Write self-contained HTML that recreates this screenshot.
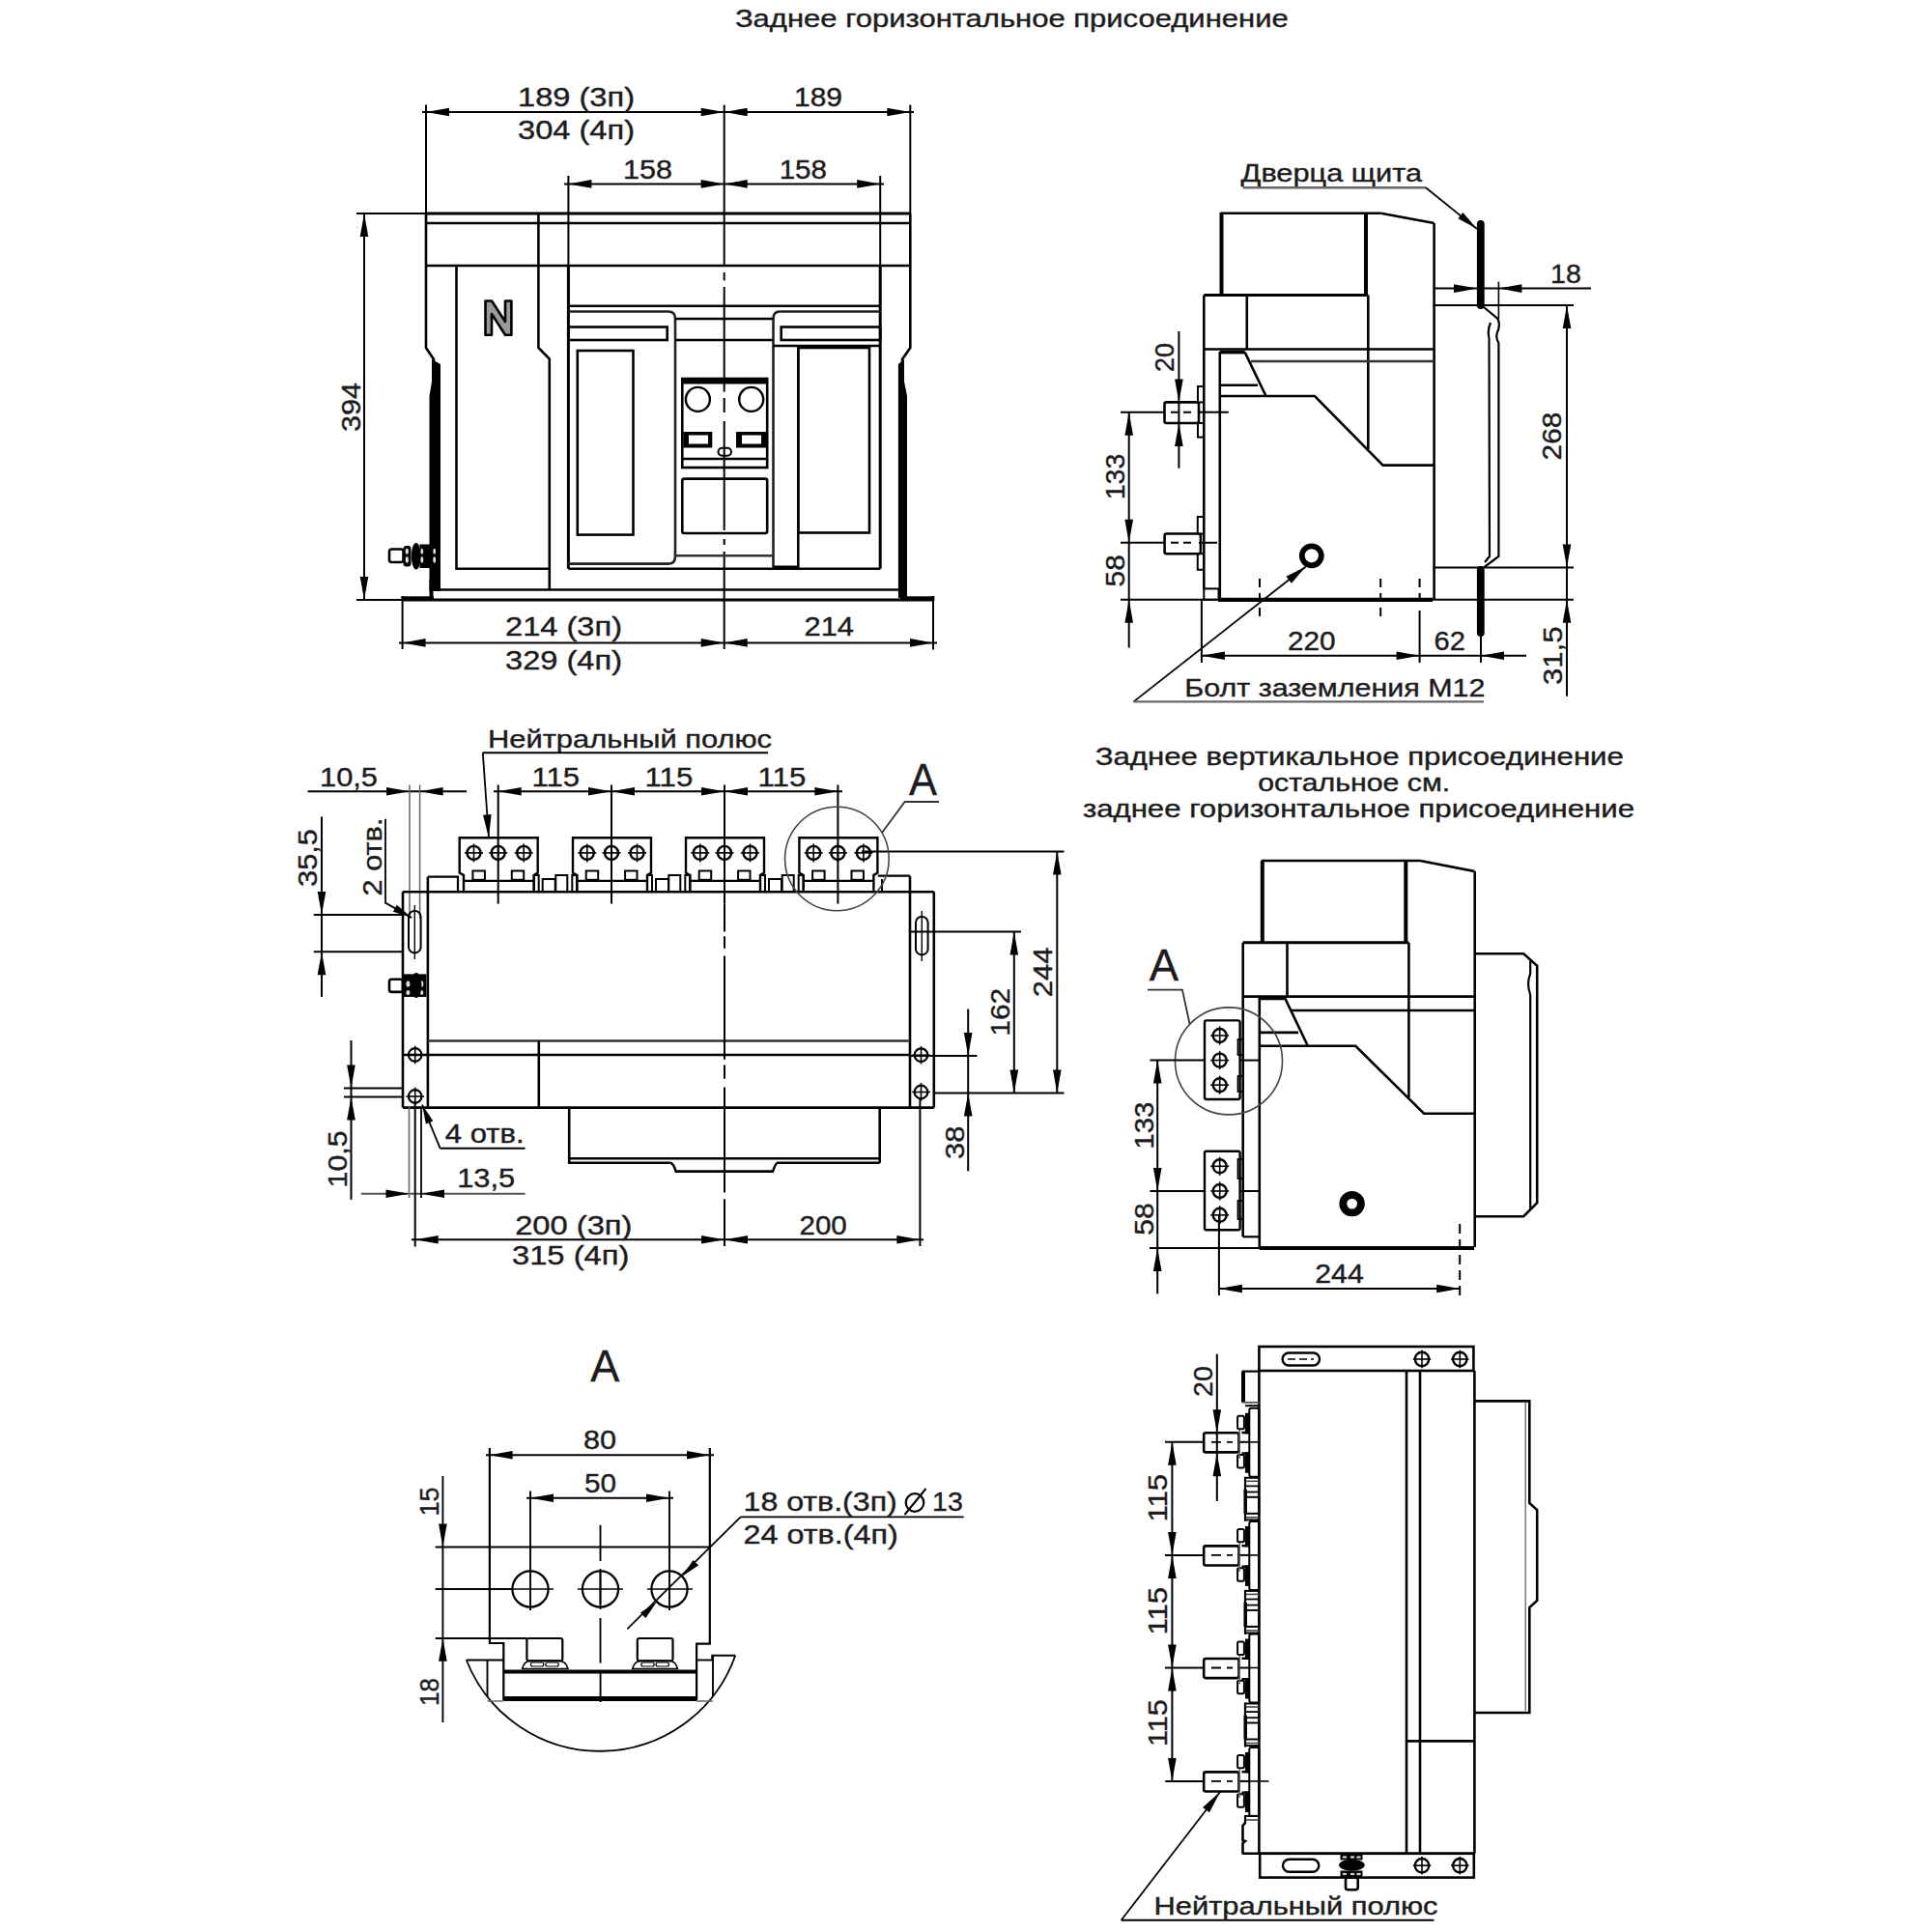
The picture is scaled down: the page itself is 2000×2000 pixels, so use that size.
<!DOCTYPE html>
<html><head><meta charset="utf-8"><style>
html,body{margin:0;padding:0;background:#fff;}
svg{display:block;}
text{font-family:"Liberation Sans",sans-serif;stroke:#1c1c1c;stroke-width:0.4px;}
</style></head><body>
<svg width="2000" height="2000" viewBox="0 0 2000 2000">
<rect width="2000" height="2000" fill="#fff"/>
<text x="760.9" y="28.2" font-size="26" fill="#1c1c1c" textLength="572.8" lengthAdjust="spacingAndGlyphs">Заднее горизонтальное присоединение</text>
<line x1="437.0" y1="116.0" x2="946.0" y2="116.0" stroke="#000" stroke-width="2.0" />
<line x1="441.0" y1="108.6" x2="441.0" y2="221.0" stroke="#000" stroke-width="2.0" />
<line x1="942.3" y1="108.6" x2="942.3" y2="221.0" stroke="#000" stroke-width="2.0" />
<polygon points="441.0,116.0 465.0,111.7 465.0,120.3" fill="#000"/>
<polygon points="749.7,116.0 725.7,120.3 725.7,111.7" fill="#000"/>
<polygon points="749.7,116.0 773.7,111.7 773.7,120.3" fill="#000"/>
<polygon points="942.3,116.0 918.3,120.3 918.3,111.7" fill="#000"/>
<text x="536.0" y="110.0" font-size="27" fill="#1c1c1c" textLength="121.0" lengthAdjust="spacingAndGlyphs">189 (3п)</text>
<text x="536.0" y="144.0" font-size="27" fill="#1c1c1c" textLength="121.0" lengthAdjust="spacingAndGlyphs">304 (4п)</text>
<text x="822.0" y="110.0" font-size="27" fill="#1c1c1c" textLength="50.0" lengthAdjust="spacingAndGlyphs">189</text>
<line x1="584.0" y1="190.4" x2="915.0" y2="190.4" stroke="#000" stroke-width="2.0" />
<line x1="588.4" y1="182.0" x2="588.4" y2="316.7" stroke="#000" stroke-width="2.0" />
<line x1="911.2" y1="182.0" x2="911.2" y2="316.7" stroke="#000" stroke-width="2.0" />
<polygon points="588.4,190.4 612.4,186.1 612.4,194.7" fill="#000"/>
<polygon points="749.7,190.4 725.7,194.7 725.7,186.1" fill="#000"/>
<polygon points="749.7,190.4 773.7,186.1 773.7,194.7" fill="#000"/>
<polygon points="911.2,190.4 887.2,194.7 887.2,186.1" fill="#000"/>
<text x="645.0" y="185.0" font-size="27" fill="#1c1c1c" textLength="51.0" lengthAdjust="spacingAndGlyphs">158</text>
<text x="806.7" y="185.0" font-size="27" fill="#1c1c1c" textLength="49.3" lengthAdjust="spacingAndGlyphs">158</text>
<line x1="749.7" y1="108.6" x2="749.7" y2="275.0" stroke="#000" stroke-width="2.0" />
<line x1="749.7" y1="282.0" x2="749.7" y2="290.4" stroke="#000" stroke-width="2.0" />
<line x1="749.7" y1="297.0" x2="749.7" y2="405.6" stroke="#000" stroke-width="2.0" />
<line x1="749.7" y1="412.0" x2="749.7" y2="427.0" stroke="#000" stroke-width="2.0" />
<line x1="749.7" y1="436.0" x2="749.7" y2="549.0" stroke="#000" stroke-width="2.0" />
<line x1="749.7" y1="558.0" x2="749.7" y2="564.0" stroke="#000" stroke-width="2.0" />
<line x1="749.7" y1="571.0" x2="749.7" y2="672.0" stroke="#000" stroke-width="2.0" />
<line x1="377.0" y1="221.0" x2="377.0" y2="621.0" stroke="#000" stroke-width="2.0" />
<polygon points="377.0,221.0 381.3,245.0 372.7,245.0" fill="#000"/>
<polygon points="377.0,621.0 372.7,597.0 381.3,597.0" fill="#000"/>
<line x1="369.0" y1="221.0" x2="441.0" y2="221.0" stroke="#000" stroke-width="2.0" />
<line x1="369.0" y1="621.0" x2="416.6" y2="621.0" stroke="#000" stroke-width="2.0" />
<text transform="translate(372.7,447.0) rotate(-90)" x="0" y="0" font-size="27" fill="#1c1c1c" textLength="51.0" lengthAdjust="spacingAndGlyphs">394</text>
<line x1="413.0" y1="665.4" x2="970.0" y2="665.4" stroke="#000" stroke-width="2.0" />
<line x1="416.6" y1="617.0" x2="416.6" y2="672.0" stroke="#000" stroke-width="2.0" />
<line x1="966.0" y1="617.0" x2="966.0" y2="672.6" stroke="#000" stroke-width="2.0" />
<polygon points="416.6,665.4 440.6,661.1 440.6,669.7" fill="#000"/>
<polygon points="749.7,665.4 725.7,669.7 725.7,661.1" fill="#000"/>
<polygon points="749.7,665.4 773.7,661.1 773.7,669.7" fill="#000"/>
<polygon points="966.0,665.4 942.0,669.7 942.0,661.1" fill="#000"/>
<text x="523.0" y="658.0" font-size="27" fill="#1c1c1c" textLength="121.0" lengthAdjust="spacingAndGlyphs">214 (3п)</text>
<text x="523.0" y="693.0" font-size="27" fill="#1c1c1c" textLength="121.0" lengthAdjust="spacingAndGlyphs">329 (4п)</text>
<text x="832.5" y="658.0" font-size="27" fill="#1c1c1c" textLength="51.5" lengthAdjust="spacingAndGlyphs">214</text>
<line x1="441.0" y1="221.0" x2="942.3" y2="221.0" stroke="#000" stroke-width="3.2" />
<line x1="441.0" y1="231.0" x2="942.3" y2="231.0" stroke="#000" stroke-width="2.6" />
<line x1="441.0" y1="275.0" x2="942.3" y2="275.0" stroke="#000" stroke-width="2.6" />
<polyline points="441.0,221.0 441.0,360.0 449.0,372.0 449.0,610.5" fill="none" stroke="#000" stroke-width="2.6" stroke-linejoin="miter" />
<polygon points="447,372 456,377 456,612 444.5,612 444.5,410 447,395" fill="#000"/>
<polyline points="942.3,221.0 942.3,360.0 934.0,372.0 934.0,610.5" fill="none" stroke="#000" stroke-width="2.6" stroke-linejoin="miter" />
<polygon points="936,372 929.9,377 929.9,619 939,619 939,410 936,395" fill="#000"/>
<line x1="416.6" y1="621.0" x2="966.0" y2="621.0" stroke="#000" stroke-width="3.0" />
<rect x="415.5" y="617.3" width="33.5" height="4.5" fill="#000"/>
<rect x="932.0" y="617.3" width="35.4" height="4.5" fill="#000"/>
<rect x="444.5" y="600.0" width="4.0" height="21.5" fill="#000"/>
<rect x="935.0" y="600.0" width="4.0" height="21.5" fill="#000"/>
<line x1="456.0" y1="610.5" x2="930.0" y2="610.5" stroke="#000" stroke-width="2.6" />
<polyline points="472.5,275.0 472.5,588.8 568.8,588.8" fill="none" stroke="#000" stroke-width="2.6" stroke-linejoin="miter" />
<polyline points="557.4,221.0 557.4,360.0 568.8,371.6 568.8,610.5" fill="none" stroke="#000" stroke-width="2.6" stroke-linejoin="miter" />
<polygon points="502.5,311.5 509.0,311.5 523.0,333.0 523.0,311.5 529.4,311.5 529.4,346.7 523.0,346.7 509.0,325.0 509.0,346.7 502.5,346.7" fill="#999" stroke="#000" stroke-width="2.6"  stroke-linejoin="round"/>
<line x1="588.4" y1="275.0" x2="588.4" y2="588.8" stroke="#000" stroke-width="3.0" />
<line x1="911.2" y1="275.0" x2="911.2" y2="588.8" stroke="#000" stroke-width="3.0" />
<line x1="588.4" y1="316.7" x2="911.2" y2="316.7" stroke="#000" stroke-width="2.6" />
<line x1="588.4" y1="588.8" x2="911.2" y2="588.8" stroke="#000" stroke-width="2.6" />
<path d="M588.4,322.5 L692,322.5 Q699,322.5 699,330 L699,576 Q699,583.6 692,583.6 L588.4,583.6" fill="none" stroke="#222" stroke-width="2.6" />
<path d="M911.2,322.5 L807,322.5 Q800.5,322.5 800.5,330 L800.5,588.8" fill="none" stroke="#222" stroke-width="2.6" />
<line x1="699.0" y1="330.0" x2="800.5" y2="330.0" stroke="#000" stroke-width="2.6" />
<line x1="699.0" y1="352.0" x2="800.5" y2="352.0" stroke="#000" stroke-width="2.6" />
<line x1="699.0" y1="575.3" x2="800.5" y2="575.3" stroke="#333" stroke-width="2.6" />
<rect x="588.4" y="338.5" width="102.3" height="13.5" fill="none" stroke="#000" stroke-width="2.6" rx="0"/>
<rect x="808.7" y="338.5" width="102.5" height="13.5" fill="none" stroke="#000" stroke-width="2.6" rx="0"/>
<line x1="800.5" y1="358.0" x2="911.2" y2="358.0" stroke="#000" stroke-width="2.6" />
<rect x="597.8" y="363.0" width="57.7" height="190.6" fill="none" stroke="#000" stroke-width="2.6" rx="0"/>
<line x1="826.3" y1="358.0" x2="826.3" y2="588.0" stroke="#000" stroke-width="2.6" />
<rect x="800.5" y="585.5" width="25.8" height="4.5" fill="#000"/>
<rect x="826.3" y="360.0" width="73.7" height="191.5" fill="none" stroke="#000" stroke-width="2.6" rx="0"/>
<rect x="706.3" y="392.0" width="87.9" height="92.0" fill="none" stroke="#000" stroke-width="2.6" rx="0"/>
<rect x="706.3" y="391.0" width="87.9" height="6.5" fill="#000"/>
<line x1="706.3" y1="475.0" x2="794.2" y2="475.0" stroke="#000" stroke-width="2.6" />
<circle cx="722.4" cy="413.4" r="12.5" fill="none" stroke="#000" stroke-width="2.4" />
<circle cx="777.7" cy="413.4" r="12.5" fill="none" stroke="#000" stroke-width="2.4" />
<rect x="707.3" y="447.0" width="30.0" height="16.5" fill="#000"/>
<rect x="713.0" y="450.5" width="20.0" height="9.0" fill="#fff"/>
<rect x="762.0" y="447.0" width="31.0" height="16.5" fill="#000"/>
<rect x="768.0" y="450.5" width="20.0" height="9.0" fill="#fff"/>
<rect x="743.5" y="463.7" width="13.5" height="8.0" fill="none" stroke="#000" stroke-width="2.0" rx="4"/>
<rect x="706.3" y="495.6" width="87.9" height="56.4" fill="none" stroke="#000" stroke-width="2.6" rx="2"/>
<rect x="403.0" y="568.5" width="14.5" height="13.5" fill="none" stroke="#000" stroke-width="2.6" rx="2.5"/>
<rect x="417.5" y="565" width="8" height="21.5" rx="3" fill="#000"/>
<ellipse cx="421.3" cy="570.8" rx="1.6" ry="3" fill="#ddd"/>
<ellipse cx="421.3" cy="579.5" rx="1.6" ry="3.2" fill="#ddd"/>
<ellipse cx="430.8" cy="575.8" rx="5" ry="13.8" fill="#000"/>
<rect x="434.5" y="563.5" width="10.5" height="24.5" fill="#000"/>
<ellipse cx="436.8" cy="570.8" rx="1.4" ry="3" fill="#ddd"/>
<ellipse cx="436.8" cy="579.5" rx="1.4" ry="3.2" fill="#ddd"/>
<ellipse cx="449.7" cy="570.8" rx="1.4" ry="3" fill="#ddd"/>
<ellipse cx="449.7" cy="579.5" rx="1.4" ry="3.2" fill="#ddd"/>
<text x="1284.6" y="187.6" font-size="26" fill="#1c1c1c" textLength="187.4" lengthAdjust="spacingAndGlyphs">Дверца щита</text>
<line x1="1286.6" y1="194.2" x2="1476.0" y2="194.2" stroke="#666" stroke-width="2.4" />
<line x1="1476.0" y1="194.2" x2="1529.0" y2="237.0" stroke="#000" stroke-width="1.8" />
<polygon points="1529.0,237.0 1509.4,226.3 1514.4,220.1" fill="#000"/>
<line x1="1532.8" y1="232" x2="1532.8" y2="316" stroke="#000" stroke-width="7.8" stroke-linecap="round"/>
<line x1="1532.8" y1="590" x2="1532.8" y2="655" stroke="#000" stroke-width="7.8" stroke-linecap="round"/>
<line x1="1533.0" y1="655.0" x2="1533.0" y2="686.0" stroke="#000" stroke-width="2.0" />
<line x1="1263.5" y1="220.7" x2="1429.5" y2="220.7" stroke="#000" stroke-width="2.6" />
<line x1="1429.5" y1="220.7" x2="1484.6" y2="231.0" stroke="#000" stroke-width="2.6" />
<line x1="1264.5" y1="220.0" x2="1264.5" y2="305.6" stroke="#000" stroke-width="4.0" />
<line x1="1414.0" y1="220.0" x2="1414.0" y2="305.6" stroke="#000" stroke-width="4.0" />
<line x1="1246.3" y1="305.6" x2="1416.3" y2="305.6" stroke="#000" stroke-width="3.0" />
<line x1="1246.3" y1="305.6" x2="1246.3" y2="609.4" stroke="#000" stroke-width="2.6" />
<line x1="1290.8" y1="305.6" x2="1290.8" y2="361.5" stroke="#000" stroke-width="2.6" />
<line x1="1416.3" y1="305.6" x2="1416.3" y2="465.0" stroke="#000" stroke-width="2.6" />
<line x1="1484.6" y1="231.0" x2="1484.6" y2="621.0" stroke="#000" stroke-width="2.6" />
<line x1="1246.3" y1="361.5" x2="1484.6" y2="361.5" stroke="#000" stroke-width="2.6" />
<line x1="1295.0" y1="374.0" x2="1484.6" y2="374.0" stroke="#333" stroke-width="2.6" />
<line x1="1262.8" y1="364.6" x2="1288.7" y2="364.6" stroke="#000" stroke-width="3.6" />
<line x1="1288.7" y1="364.6" x2="1310.5" y2="410.0" stroke="#000" stroke-width="2.6" />
<line x1="1263.0" y1="398.8" x2="1302.0" y2="398.8" stroke="#000" stroke-width="2.6" />
<polyline points="1263.0,410.0 1361.0,410.0 1431.6,481.6 1484.6,481.6" fill="none" stroke="#000" stroke-width="2.6" stroke-linejoin="miter" />
<line x1="1262.8" y1="364.0" x2="1262.8" y2="620.8" stroke="#000" stroke-width="2.6" />
<rect x="1246.3" y="609.4" width="15.2" height="11.4" fill="none" stroke="#000" stroke-width="2.0" rx="0"/>
<rect x="1205.5" y="416.4" width="35.5" height="21.6" fill="none" stroke="#000" stroke-width="2.6" rx="2"/>
<rect x="1240.0" y="400.0" width="6.0" height="16.4" fill="none" stroke="#000" stroke-width="2.0" rx="0"/>
<rect x="1240.0" y="438.0" width="6.0" height="14.6" fill="none" stroke="#000" stroke-width="2.0" rx="0"/>
<rect x="1205.6" y="552.5" width="37.3" height="20.7" fill="none" stroke="#000" stroke-width="2.6" rx="2"/>
<rect x="1239.8" y="535.0" width="6.2" height="17.5" fill="none" stroke="#000" stroke-width="2.0" rx="0"/>
<rect x="1239.8" y="573.2" width="6.2" height="16.6" fill="none" stroke="#000" stroke-width="2.0" rx="0"/>
<line x1="1160.0" y1="426.7" x2="1206.0" y2="426.7" stroke="#000" stroke-width="2.0" />
<line x1="1241.0" y1="426.7" x2="1271.8" y2="426.7" stroke="#000" stroke-width="2.0" />
<line x1="1212.0" y1="426.7" x2="1236.0" y2="426.7" stroke="#000" stroke-width="2.0" stroke-dasharray="8 5"/>
<line x1="1160.0" y1="561.8" x2="1206.0" y2="561.8" stroke="#000" stroke-width="2.0" />
<line x1="1241.0" y1="561.8" x2="1260.0" y2="561.8" stroke="#000" stroke-width="2.0" />
<line x1="1212.0" y1="561.8" x2="1236.0" y2="561.8" stroke="#000" stroke-width="2.0" stroke-dasharray="8 5"/>
<line x1="1220.4" y1="343.0" x2="1220.4" y2="484.7" stroke="#000" stroke-width="2.0" />
<polygon points="1220.4,416.4 1216.1,392.4 1224.7,392.4" fill="#000"/>
<polygon points="1220.4,438.0 1224.7,462.0 1216.1,462.0" fill="#000"/>
<text transform="translate(1215.0,385.0) rotate(-90)" x="0" y="0" font-size="27" fill="#1c1c1c" textLength="30.0" lengthAdjust="spacingAndGlyphs">20</text>
<line x1="1168.7" y1="426.7" x2="1168.7" y2="670.5" stroke="#000" stroke-width="2.0" />
<polygon points="1168.7,426.7 1173.0,450.7 1164.4,450.7" fill="#000"/>
<polygon points="1168.7,561.8 1164.4,537.8 1173.0,537.8" fill="#000"/>
<polygon points="1168.7,620.8 1173.0,644.8 1164.4,644.8" fill="#000"/>
<text transform="translate(1164.2,517.3) rotate(-90)" x="0" y="0" font-size="27" fill="#1c1c1c" textLength="47.6" lengthAdjust="spacingAndGlyphs">133</text>
<text transform="translate(1164.2,607.4) rotate(-90)" x="0" y="0" font-size="27" fill="#1c1c1c" textLength="33.2" lengthAdjust="spacingAndGlyphs">58</text>
<line x1="1160.0" y1="620.8" x2="1629.0" y2="620.8" stroke="#000" stroke-width="2.0" />
<line x1="1261.0" y1="620.8" x2="1483.0" y2="620.8" stroke="#000" stroke-width="4.2" />
<circle cx="1357.8" cy="575.3" r="10.0" fill="none" stroke="#000" stroke-width="5.8" />
<line x1="1351.5" y1="586.7" x2="1173.5" y2="726.4" stroke="#000" stroke-width="1.8" />
<polygon points="1351.5,586.7 1337.0,603.8 1331.4,596.7" fill="#000"/>
<line x1="1173.5" y1="726.4" x2="1536.0" y2="726.4" stroke="#666" stroke-width="2.4" />
<text x="1226.3" y="721.2" font-size="26.5" fill="#1c1c1c" textLength="311.1" lengthAdjust="spacingAndGlyphs">Болт заземления М12</text>
<line x1="1304.0" y1="599.0" x2="1304.0" y2="643.0" stroke="#000" stroke-width="2.0" stroke-dasharray="9 6"/>
<line x1="1429.2" y1="599.0" x2="1429.2" y2="643.0" stroke="#000" stroke-width="2.0" stroke-dasharray="9 6"/>
<line x1="1469.6" y1="599.0" x2="1469.6" y2="625.0" stroke="#000" stroke-width="2.0" stroke-dasharray="9 6"/>
<line x1="1469.6" y1="632.0" x2="1469.6" y2="686.0" stroke="#000" stroke-width="2.0" />
<line x1="1243.9" y1="620.8" x2="1243.9" y2="686.0" stroke="#000" stroke-width="2.0" />
<line x1="1243.9" y1="678.8" x2="1580.0" y2="678.8" stroke="#000" stroke-width="2.0" />
<polygon points="1243.9,678.8 1267.9,674.5 1267.9,683.1" fill="#000"/>
<polygon points="1469.6,678.8 1445.6,683.1 1445.6,674.5" fill="#000"/>
<polygon points="1533.0,678.8 1557.0,674.5 1557.0,683.1" fill="#000"/>
<text x="1333.0" y="672.6" font-size="27" fill="#1c1c1c" textLength="49.6" lengthAdjust="spacingAndGlyphs">220</text>
<text x="1484.6" y="672.5" font-size="27" fill="#1c1c1c" textLength="32.4" lengthAdjust="spacingAndGlyphs">62</text>
<line x1="1484.6" y1="298.6" x2="1647.0" y2="298.6" stroke="#000" stroke-width="2.0" />
<polygon points="1529.0,298.6 1505.0,302.9 1505.0,294.3" fill="#000"/>
<polygon points="1551.4,298.6 1575.4,294.3 1575.4,302.9" fill="#000"/>
<text x="1605.0" y="293.0" font-size="27" fill="#1c1c1c" textLength="31.8" lengthAdjust="spacingAndGlyphs">18</text>
<line x1="1484.6" y1="316.1" x2="1629.0" y2="316.1" stroke="#000" stroke-width="2.0" />
<line x1="1551.4" y1="291.6" x2="1551.4" y2="330.0" stroke="#000" stroke-width="1.6" />
<path d="M1536,318 L1550.5,330 Q1553.5,337 1550,344 Q1548,350 1551.4,355 L1551.4,576 L1536.6,587" fill="none" stroke="#000" stroke-width="2.2" />
<path d="M1543,334 Q1539.5,342 1541.5,350 L1542,576 L1537,582" fill="none" stroke="#000" stroke-width="2.2" />
<line x1="1484.6" y1="587.6" x2="1629.0" y2="587.6" stroke="#000" stroke-width="2.0" />
<line x1="1622.0" y1="316.1" x2="1622.0" y2="720.7" stroke="#000" stroke-width="2.0" />
<polygon points="1622.0,316.1 1626.3,340.1 1617.7,340.1" fill="#000"/>
<polygon points="1622.0,587.6 1617.7,563.6 1626.3,563.6" fill="#000"/>
<polygon points="1622.0,620.8 1626.3,644.8 1617.7,644.8" fill="#000"/>
<text transform="translate(1615.8,476.4) rotate(-90)" x="0" y="0" font-size="27" fill="#1c1c1c" textLength="49.7" lengthAdjust="spacingAndGlyphs">268</text>
<text transform="translate(1616.6,709.0) rotate(-90)" x="0" y="0" font-size="27" fill="#1c1c1c" textLength="60.5" lengthAdjust="spacingAndGlyphs">31,5</text>
<text x="505.0" y="774.0" font-size="25" fill="#1c1c1c" textLength="294.0" lengthAdjust="spacingAndGlyphs">Нейтральный полюс</text>
<line x1="499.8" y1="779.3" x2="795.0" y2="779.3" stroke="#000" stroke-width="2.0" />
<line x1="499.8" y1="779.3" x2="506.0" y2="867.3" stroke="#000" stroke-width="1.8" />
<polygon points="506.0,867.3 500.0,843.7 508.6,843.1" fill="#000"/>
<line x1="318.6" y1="819.3" x2="483.0" y2="819.3" stroke="#000" stroke-width="2.0" />
<polygon points="424.0,819.3 400.0,823.6 400.0,815.0" fill="#000"/>
<polygon points="434.6,819.3 458.6,815.0 458.6,823.6" fill="#000"/>
<text x="331.0" y="813.5" font-size="27" fill="#1c1c1c" textLength="60.0" lengthAdjust="spacingAndGlyphs">10,5</text>
<line x1="424.0" y1="812.5" x2="424.0" y2="951.0" stroke="#666" stroke-width="1.5" />
<line x1="434.6" y1="812.5" x2="434.6" y2="951.0" stroke="#666" stroke-width="1.5" />
<line x1="511.0" y1="819.3" x2="872.0" y2="819.3" stroke="#000" stroke-width="2.0" />
<line x1="515.7" y1="812.5" x2="515.7" y2="935.6" stroke="#000" stroke-width="2.0" />
<line x1="633.0" y1="812.5" x2="633.0" y2="935.6" stroke="#000" stroke-width="2.0" />
<line x1="750.0" y1="812.5" x2="750.0" y2="935.6" stroke="#000" stroke-width="2.0" />
<line x1="867.4" y1="812.5" x2="867.4" y2="935.6" stroke="#000" stroke-width="2.0" />
<polygon points="515.7,819.3 539.7,815.0 539.7,823.6" fill="#000"/>
<polygon points="633.0,819.3 609.0,823.6 609.0,815.0" fill="#000"/>
<polygon points="633.0,819.3 657.0,815.0 657.0,823.6" fill="#000"/>
<polygon points="750.0,819.3 726.0,823.6 726.0,815.0" fill="#000"/>
<polygon points="750.0,819.3 774.0,815.0 774.0,823.6" fill="#000"/>
<polygon points="867.4,819.3 843.4,823.6 843.4,815.0" fill="#000"/>
<text x="550.5" y="813.5" font-size="27" fill="#1c1c1c" textLength="49.5" lengthAdjust="spacingAndGlyphs">115</text>
<text x="667.6" y="813.5" font-size="27" fill="#1c1c1c" textLength="49.7" lengthAdjust="spacingAndGlyphs">115</text>
<text x="784.6" y="813.5" font-size="27" fill="#1c1c1c" textLength="49.7" lengthAdjust="spacingAndGlyphs">115</text>
<polyline points="480.0,923.0 480.0,906.0 475.7,903.6 475.7,867.3 556.7,867.3 556.7,903.6 552.7,906.0 552.7,923.0" fill="none" stroke="#000" stroke-width="2.4" stroke-linejoin="miter" />
<circle cx="490.5" cy="882.9" r="7.0" fill="none" stroke="#000" stroke-width="2.4" />
<line x1="481.0" y1="882.9" x2="500.0" y2="882.9" stroke="#000" stroke-width="1.6" />
<line x1="490.5" y1="873.4" x2="490.5" y2="892.4" stroke="#000" stroke-width="1.6" />
<circle cx="515.7" cy="882.9" r="7.0" fill="none" stroke="#000" stroke-width="2.4" />
<line x1="506.2" y1="882.9" x2="525.2" y2="882.9" stroke="#000" stroke-width="1.6" />
<line x1="515.7" y1="873.4" x2="515.7" y2="892.4" stroke="#000" stroke-width="1.6" />
<circle cx="542.2" cy="882.9" r="7.0" fill="none" stroke="#000" stroke-width="2.4" />
<line x1="532.7" y1="882.9" x2="551.7" y2="882.9" stroke="#000" stroke-width="1.6" />
<line x1="542.2" y1="873.4" x2="542.2" y2="892.4" stroke="#000" stroke-width="1.6" />
<rect x="489.4" y="901.5" width="12.5" height="9.3" fill="none" stroke="#000" stroke-width="2.0" rx="0"/>
<rect x="529.8" y="901.5" width="12.4" height="9.3" fill="none" stroke="#000" stroke-width="2.0" rx="0"/>
<line x1="480.0" y1="911.8" x2="552.7" y2="911.8" stroke="#000" stroke-width="2.2" />
<polyline points="597.3,923.0 597.3,906.0 593.0,903.6 593.0,867.3 674.0,867.3 674.0,903.6 670.0,906.0 670.0,923.0" fill="none" stroke="#000" stroke-width="2.4" stroke-linejoin="miter" />
<circle cx="607.8" cy="882.9" r="7.0" fill="none" stroke="#000" stroke-width="2.4" />
<line x1="598.3" y1="882.9" x2="617.3" y2="882.9" stroke="#000" stroke-width="1.6" />
<line x1="607.8" y1="873.4" x2="607.8" y2="892.4" stroke="#000" stroke-width="1.6" />
<circle cx="633.0" cy="882.9" r="7.0" fill="none" stroke="#000" stroke-width="2.4" />
<line x1="623.5" y1="882.9" x2="642.5" y2="882.9" stroke="#000" stroke-width="1.6" />
<line x1="633.0" y1="873.4" x2="633.0" y2="892.4" stroke="#000" stroke-width="1.6" />
<circle cx="659.5" cy="882.9" r="7.0" fill="none" stroke="#000" stroke-width="2.4" />
<line x1="650.0" y1="882.9" x2="669.0" y2="882.9" stroke="#000" stroke-width="1.6" />
<line x1="659.5" y1="873.4" x2="659.5" y2="892.4" stroke="#000" stroke-width="1.6" />
<rect x="606.7" y="901.5" width="12.5" height="9.3" fill="none" stroke="#000" stroke-width="2.0" rx="0"/>
<rect x="647.1" y="901.5" width="12.4" height="9.3" fill="none" stroke="#000" stroke-width="2.0" rx="0"/>
<line x1="597.3" y1="911.8" x2="670.0" y2="911.8" stroke="#000" stroke-width="2.2" />
<polyline points="714.3,923.0 714.3,906.0 710.0,903.6 710.0,867.3 791.0,867.3 791.0,903.6 787.0,906.0 787.0,923.0" fill="none" stroke="#000" stroke-width="2.4" stroke-linejoin="miter" />
<circle cx="724.8" cy="882.9" r="7.0" fill="none" stroke="#000" stroke-width="2.4" />
<line x1="715.3" y1="882.9" x2="734.3" y2="882.9" stroke="#000" stroke-width="1.6" />
<line x1="724.8" y1="873.4" x2="724.8" y2="892.4" stroke="#000" stroke-width="1.6" />
<circle cx="750.0" cy="882.9" r="7.0" fill="none" stroke="#000" stroke-width="2.4" />
<line x1="740.5" y1="882.9" x2="759.5" y2="882.9" stroke="#000" stroke-width="1.6" />
<line x1="750.0" y1="873.4" x2="750.0" y2="892.4" stroke="#000" stroke-width="1.6" />
<circle cx="776.5" cy="882.9" r="7.0" fill="none" stroke="#000" stroke-width="2.4" />
<line x1="767.0" y1="882.9" x2="786.0" y2="882.9" stroke="#000" stroke-width="1.6" />
<line x1="776.5" y1="873.4" x2="776.5" y2="892.4" stroke="#000" stroke-width="1.6" />
<rect x="723.7" y="901.5" width="12.5" height="9.3" fill="none" stroke="#000" stroke-width="2.0" rx="0"/>
<rect x="764.1" y="901.5" width="12.4" height="9.3" fill="none" stroke="#000" stroke-width="2.0" rx="0"/>
<line x1="714.3" y1="911.8" x2="787.0" y2="911.8" stroke="#000" stroke-width="2.2" />
<polyline points="831.7,923.0 831.7,906.0 827.4,903.6 827.4,867.3 908.4,867.3 908.4,903.6 904.4,906.0 904.4,923.0" fill="none" stroke="#000" stroke-width="2.4" stroke-linejoin="miter" />
<circle cx="842.2" cy="882.9" r="7.0" fill="none" stroke="#000" stroke-width="2.4" />
<line x1="832.7" y1="882.9" x2="851.7" y2="882.9" stroke="#000" stroke-width="1.6" />
<line x1="842.2" y1="873.4" x2="842.2" y2="892.4" stroke="#000" stroke-width="1.6" />
<circle cx="867.4" cy="882.9" r="7.0" fill="none" stroke="#000" stroke-width="2.4" />
<line x1="857.9" y1="882.9" x2="876.9" y2="882.9" stroke="#000" stroke-width="1.6" />
<line x1="867.4" y1="873.4" x2="867.4" y2="892.4" stroke="#000" stroke-width="1.6" />
<circle cx="893.9" cy="882.9" r="7.0" fill="none" stroke="#000" stroke-width="2.4" />
<line x1="884.4" y1="882.9" x2="903.4" y2="882.9" stroke="#000" stroke-width="1.6" />
<line x1="893.9" y1="873.4" x2="893.9" y2="892.4" stroke="#000" stroke-width="1.6" />
<rect x="841.1" y="901.5" width="12.5" height="9.3" fill="none" stroke="#000" stroke-width="2.0" rx="0"/>
<rect x="881.5" y="901.5" width="12.4" height="9.3" fill="none" stroke="#000" stroke-width="2.0" rx="0"/>
<line x1="831.7" y1="911.8" x2="904.4" y2="911.8" stroke="#000" stroke-width="2.2" />
<rect x="552.7" y="906.0" width="5.0" height="17.0" fill="none" stroke="#000" stroke-width="2.0" rx="0"/>
<rect x="592.3" y="906.0" width="5.0" height="17.0" fill="none" stroke="#000" stroke-width="2.0" rx="0"/>
<rect x="561.7" y="910.0" width="13.0" height="13.0" fill="none" stroke="#000" stroke-width="2.0" rx="0"/>
<rect x="575.3" y="906.0" width="12.0" height="17.0" fill="none" stroke="#000" stroke-width="2.0" rx="0"/>
<rect x="670.0" y="906.0" width="5.0" height="17.0" fill="none" stroke="#000" stroke-width="2.0" rx="0"/>
<rect x="709.3" y="906.0" width="5.0" height="17.0" fill="none" stroke="#000" stroke-width="2.0" rx="0"/>
<rect x="679.0" y="910.0" width="13.0" height="13.0" fill="none" stroke="#000" stroke-width="2.0" rx="0"/>
<rect x="692.3" y="906.0" width="12.0" height="17.0" fill="none" stroke="#000" stroke-width="2.0" rx="0"/>
<rect x="787.0" y="906.0" width="5.0" height="17.0" fill="none" stroke="#000" stroke-width="2.0" rx="0"/>
<rect x="826.7" y="906.0" width="5.0" height="17.0" fill="none" stroke="#000" stroke-width="2.0" rx="0"/>
<rect x="796.0" y="910.0" width="13.0" height="13.0" fill="none" stroke="#000" stroke-width="2.0" rx="0"/>
<rect x="809.7" y="906.0" width="12.0" height="17.0" fill="none" stroke="#000" stroke-width="2.0" rx="0"/>
<line x1="417.0" y1="923.2" x2="966.8" y2="923.2" stroke="#000" stroke-width="2.6" />
<line x1="417.0" y1="923.2" x2="417.0" y2="1146.6" stroke="#000" stroke-width="2.6" />
<line x1="442.9" y1="907.7" x2="442.9" y2="1146.6" stroke="#000" stroke-width="2.6" />
<line x1="942.0" y1="906.7" x2="942.0" y2="1146.6" stroke="#000" stroke-width="2.6" />
<line x1="966.8" y1="923.2" x2="966.8" y2="1146.6" stroke="#000" stroke-width="2.6" />
<polyline points="442.9,907.7 474.0,907.7 474.0,923.2" fill="none" stroke="#000" stroke-width="2.2" stroke-linejoin="miter" />
<polyline points="908.8,906.7 942.0,906.7" fill="none" stroke="#000" stroke-width="2.2" stroke-linejoin="miter" />
<line x1="913.0" y1="910.0" x2="913.0" y2="923.0" stroke="#000" stroke-width="2.0" />
<line x1="443.0" y1="1077.5" x2="942.0" y2="1077.5" stroke="#333" stroke-width="2.6" />
<line x1="417.0" y1="1092.0" x2="942.0" y2="1092.0" stroke="#000" stroke-width="2.6" />
<line x1="557.8" y1="1077.5" x2="557.8" y2="1146.6" stroke="#000" stroke-width="2.6" />
<line x1="417.0" y1="1146.6" x2="966.8" y2="1146.6" stroke="#000" stroke-width="2.6" />
<rect x="423.0" y="943.0" width="12.6" height="43.4" fill="none" stroke="#000" stroke-width="2.0" rx="6"/>
<rect x="948.0" y="949.0" width="12.6" height="39.4" fill="none" stroke="#000" stroke-width="2.0" rx="6"/>
<line x1="429.3" y1="937.0" x2="429.3" y2="993.0" stroke="#000" stroke-width="1.4" />
<line x1="954.3" y1="943.0" x2="954.3" y2="995.0" stroke="#000" stroke-width="1.4" />
<circle cx="429.7" cy="1092.0" r="6.8" fill="none" stroke="#000" stroke-width="2.2" />
<line x1="420.4" y1="1092.0" x2="439.0" y2="1092.0" stroke="#000" stroke-width="1.6" />
<line x1="429.7" y1="1082.7" x2="429.7" y2="1101.3" stroke="#000" stroke-width="1.6" />
<circle cx="429.7" cy="1135.0" r="6.8" fill="none" stroke="#000" stroke-width="2.2" />
<line x1="420.4" y1="1135.0" x2="439.0" y2="1135.0" stroke="#000" stroke-width="1.6" />
<line x1="429.7" y1="1125.7" x2="429.7" y2="1144.3" stroke="#000" stroke-width="1.6" />
<circle cx="953.5" cy="1092.2" r="6.8" fill="none" stroke="#000" stroke-width="2.2" />
<line x1="944.2" y1="1092.2" x2="962.8" y2="1092.2" stroke="#000" stroke-width="1.6" />
<line x1="953.5" y1="1082.9" x2="953.5" y2="1101.5" stroke="#000" stroke-width="1.6" />
<circle cx="953.5" cy="1130.5" r="6.8" fill="none" stroke="#000" stroke-width="2.2" />
<line x1="944.2" y1="1130.5" x2="962.8" y2="1130.5" stroke="#000" stroke-width="1.6" />
<line x1="953.5" y1="1121.2" x2="953.5" y2="1139.8" stroke="#000" stroke-width="1.6" />
<polyline points="589.2,1146.6 589.2,1203.8 693.8,1203.8" fill="none" stroke="#000" stroke-width="2.6" stroke-linejoin="miter" />
<line x1="589.2" y1="1199.2" x2="910.7" y2="1199.2" stroke="#000" stroke-width="2.6" />
<path d="M693.8,1203.8 Q697,1204 699.7,1212.6 L800,1212.6 Q803,1204 805,1203.8 L910.7,1203.8" fill="none" stroke="#000" stroke-width="2.6" />
<line x1="910.7" y1="1146.6" x2="910.7" y2="1203.8" stroke="#000" stroke-width="2.6" />
<line x1="750.0" y1="935.6" x2="750.0" y2="964.5" stroke="#000" stroke-width="2.0" />
<line x1="750.0" y1="969.3" x2="750.0" y2="981.7" stroke="#000" stroke-width="2.0" />
<line x1="750.0" y1="989.4" x2="750.0" y2="1096.7" stroke="#000" stroke-width="2.0" />
<line x1="750.0" y1="1102.4" x2="750.0" y2="1116.8" stroke="#000" stroke-width="2.0" />
<line x1="750.0" y1="1125.4" x2="750.0" y2="1234.6" stroke="#000" stroke-width="2.0" />
<line x1="750.0" y1="1241.3" x2="750.0" y2="1290.0" stroke="#000" stroke-width="2.0" />
<rect x="403.0" y="1013.8" width="14.0" height="13.1" fill="none" stroke="#000" stroke-width="2.6" rx="2.5"/>
<rect x="416.4" y="1008.4" width="25.0" height="23.6" fill="#000"/>
<ellipse cx="422.4" cy="1018.5" rx="2" ry="3.3" fill="#ddd"/>
<ellipse cx="422.4" cy="1027.5" rx="2" ry="2.5" fill="#ddd"/>
<ellipse cx="436.7" cy="1018.5" rx="1.6" ry="3.3" fill="#ddd"/>
<ellipse cx="436.7" cy="1027.5" rx="1.6" ry="2.5" fill="#ddd"/>
<ellipse cx="430.9" cy="1020" rx="5.5" ry="13" fill="#000"/>
<line x1="333.0" y1="845.6" x2="333.0" y2="1032.0" stroke="#000" stroke-width="2.0" />
<polygon points="333.0,947.0 328.7,923.0 337.3,923.0" fill="#000"/>
<polygon points="333.0,985.3 337.3,1009.3 328.7,1009.3" fill="#000"/>
<line x1="324.8" y1="947.0" x2="417.0" y2="947.0" stroke="#000" stroke-width="2.0" />
<line x1="324.8" y1="985.3" x2="417.0" y2="985.3" stroke="#000" stroke-width="2.0" />
<text transform="translate(328.0,918.0) rotate(-90)" x="0" y="0" font-size="27" fill="#1c1c1c" textLength="60.0" lengthAdjust="spacingAndGlyphs">35,5</text>
<text transform="translate(395.2,927.4) rotate(-90)" x="0" y="0" font-size="27" fill="#1c1c1c" textLength="80.8" lengthAdjust="spacingAndGlyphs">2 отв.</text>
<polyline points="399.0,847.7 399.0,934.6 426.3,950.0" fill="none" stroke="#000" stroke-width="1.8" stroke-linejoin="miter" />
<polygon points="426.3,950.0 406.9,943.7 410.8,936.7" fill="#000"/>
<line x1="363.5" y1="1077.0" x2="363.5" y2="1241.9" stroke="#000" stroke-width="2.0" />
<polygon points="363.5,1126.5 359.2,1102.5 367.8,1102.5" fill="#000"/>
<polygon points="363.5,1135.6 367.8,1159.6 359.2,1159.6" fill="#000"/>
<line x1="356.0" y1="1126.5" x2="416.0" y2="1126.5" stroke="#000" stroke-width="2.0" />
<line x1="356.0" y1="1135.6" x2="416.0" y2="1135.6" stroke="#000" stroke-width="2.0" />
<text transform="translate(359.3,1229.4) rotate(-90)" x="0" y="0" font-size="27" fill="#1c1c1c" textLength="59.0" lengthAdjust="spacingAndGlyphs">10,5</text>
<line x1="373.8" y1="1235.7" x2="543.6" y2="1235.7" stroke="#555" stroke-width="2.0" />
<polygon points="423.5,1235.7 399.5,1240.0 399.5,1231.4" fill="#000"/>
<polygon points="436.0,1235.7 460.0,1231.4 460.0,1240.0" fill="#000"/>
<line x1="423.5" y1="1146.0" x2="423.5" y2="1240.0" stroke="#666" stroke-width="1.6" />
<line x1="436.0" y1="1146.0" x2="436.0" y2="1240.0" stroke="#000" stroke-width="1.8" />
<text x="473.2" y="1229.4" font-size="27" fill="#1c1c1c" textLength="60.0" lengthAdjust="spacingAndGlyphs">13,5</text>
<text x="460.8" y="1182.9" font-size="27" fill="#1c1c1c" textLength="81.8" lengthAdjust="spacingAndGlyphs">4 отв.</text>
<line x1="455.6" y1="1188.7" x2="543.6" y2="1188.7" stroke="#000" stroke-width="2.0" />
<line x1="455.6" y1="1188.7" x2="437.0" y2="1143.5" stroke="#000" stroke-width="1.8" />
<polygon points="437.0,1143.5 448.3,1160.5 440.9,1163.5" fill="#000"/>
<line x1="426.0" y1="1283.3" x2="956.0" y2="1283.3" stroke="#000" stroke-width="2.0" />
<line x1="429.7" y1="1140.0" x2="429.7" y2="1290.5" stroke="#000" stroke-width="2.0" />
<line x1="952.4" y1="1137.0" x2="952.4" y2="1290.0" stroke="#000" stroke-width="2.0" />
<polygon points="429.7,1283.3 453.7,1279.0 453.7,1287.6" fill="#000"/>
<polygon points="750.0,1283.3 726.0,1287.6 726.0,1279.0" fill="#000"/>
<polygon points="750.0,1283.3 774.0,1279.0 774.0,1287.6" fill="#000"/>
<polygon points="952.4,1283.3 928.4,1287.6 928.4,1279.0" fill="#000"/>
<text x="533.2" y="1278.0" font-size="27" fill="#1c1c1c" textLength="121.2" lengthAdjust="spacingAndGlyphs">200 (3п)</text>
<text x="530.0" y="1309.0" font-size="27" fill="#1c1c1c" textLength="121.3" lengthAdjust="spacingAndGlyphs">315 (4п)</text>
<text x="827.5" y="1277.5" font-size="27" fill="#1c1c1c" textLength="49.2" lengthAdjust="spacingAndGlyphs">200</text>
<line x1="892.0" y1="881.4" x2="1101.5" y2="881.4" stroke="#000" stroke-width="2.0" />
<line x1="966.0" y1="1131.6" x2="1101.5" y2="1131.6" stroke="#000" stroke-width="2.0" />
<line x1="1094.3" y1="881.4" x2="1094.3" y2="1131.6" stroke="#000" stroke-width="2.0" />
<polygon points="1094.3,881.4 1098.6,905.4 1090.0,905.4" fill="#000"/>
<polygon points="1094.3,1131.6 1090.0,1107.6 1098.6,1107.6" fill="#000"/>
<text transform="translate(1089.0,1032.2) rotate(-90)" x="0" y="0" font-size="27" fill="#1c1c1c" textLength="51.8" lengthAdjust="spacingAndGlyphs">244</text>
<line x1="942.0" y1="964.6" x2="1057.0" y2="964.6" stroke="#000" stroke-width="2.0" />
<line x1="1049.8" y1="964.6" x2="1049.8" y2="1131.6" stroke="#000" stroke-width="2.0" />
<polygon points="1049.8,964.6 1054.1,988.6 1045.5,988.6" fill="#000"/>
<polygon points="1049.8,1131.6 1045.5,1107.6 1054.1,1107.6" fill="#000"/>
<text transform="translate(1044.6,1072.6) rotate(-90)" x="0" y="0" font-size="27" fill="#1c1c1c" textLength="49.7" lengthAdjust="spacingAndGlyphs">162</text>
<line x1="942.0" y1="1093.0" x2="1011.5" y2="1093.0" stroke="#000" stroke-width="2.0" />
<line x1="1002.2" y1="1044.6" x2="1002.2" y2="1212.3" stroke="#000" stroke-width="2.0" />
<polygon points="1002.2,1093.0 997.9,1069.0 1006.5,1069.0" fill="#000"/>
<polygon points="1002.2,1131.6 1006.5,1155.6 997.9,1155.6" fill="#000"/>
<text transform="translate(998.0,1200.0) rotate(-90)" x="0" y="0" font-size="27" fill="#1c1c1c" textLength="34.3" lengthAdjust="spacingAndGlyphs">38</text>
<circle cx="866.4" cy="889.0" r="53.8" fill="none" stroke="#444" stroke-width="1.6" />
<polyline points="913.0,862.0 936.7,830.0 972.0,830.0" fill="none" stroke="#333" stroke-width="1.8" stroke-linejoin="miter" />
<text x="941.0" y="822.8" font-size="46" fill="#1c1c1c" textLength="29.0" lengthAdjust="spacingAndGlyphs">A</text>
<line x1="1305.8" y1="891.0" x2="1470.0" y2="891.0" stroke="#000" stroke-width="2.6" />
<line x1="1470.0" y1="891.0" x2="1526.7" y2="902.0" stroke="#000" stroke-width="2.6" />
<line x1="1306.8" y1="891.0" x2="1306.8" y2="975.7" stroke="#000" stroke-width="4.0" />
<line x1="1455.3" y1="891.0" x2="1455.3" y2="975.7" stroke="#000" stroke-width="4.0" />
<line x1="1286.7" y1="975.7" x2="1458.4" y2="975.7" stroke="#000" stroke-width="3.0" />
<line x1="1526.7" y1="902.0" x2="1526.7" y2="1291.0" stroke="#000" stroke-width="2.6" />
<line x1="1286.7" y1="975.7" x2="1286.7" y2="1280.3" stroke="#000" stroke-width="2.6" />
<line x1="1332.5" y1="975.7" x2="1332.5" y2="1031.6" stroke="#000" stroke-width="2.6" />
<line x1="1458.4" y1="975.7" x2="1458.4" y2="1136.4" stroke="#000" stroke-width="2.6" />
<line x1="1286.7" y1="1031.6" x2="1526.7" y2="1031.6" stroke="#000" stroke-width="2.6" />
<line x1="1337.0" y1="1046.0" x2="1526.7" y2="1046.0" stroke="#000" stroke-width="2.6" />
<line x1="1303.8" y1="1031.6" x2="1303.8" y2="1291.0" stroke="#000" stroke-width="2.6" />
<line x1="1303.8" y1="1033.5" x2="1329.4" y2="1033.5" stroke="#000" stroke-width="3.6" />
<line x1="1329.4" y1="1031.6" x2="1353.5" y2="1082.0" stroke="#000" stroke-width="2.6" />
<line x1="1303.8" y1="1068.9" x2="1344.0" y2="1068.9" stroke="#000" stroke-width="2.6" />
<polyline points="1303.8,1082.8 1403.3,1082.8 1474.0,1152.7 1526.7,1152.7" fill="none" stroke="#000" stroke-width="2.6" stroke-linejoin="miter" />
<line x1="1286.7" y1="1280.3" x2="1303.8" y2="1280.3" stroke="#000" stroke-width="2.2" />
<polyline points="1526.7,987.3 1577.2,987.3 1591.2,999.8 1591.2,1245.2 1577.2,1259.2 1526.7,1259.2" fill="none" stroke="#000" stroke-width="2.6" stroke-linejoin="miter" />
<path d="M1584.2,995 L1584.2,1008 Q1580,1018 1584.2,1030 L1584.2,1252" fill="none" stroke="#000" stroke-width="2.2" />
<line x1="1190.0" y1="1292.0" x2="1526.0" y2="1292.0" stroke="#000" stroke-width="2.0" />
<line x1="1303.8" y1="1292.0" x2="1526.0" y2="1292.0" stroke="#000" stroke-width="4.2" />
<text x="1189.7" y="1015.3" font-size="46" fill="#1c1c1c" textLength="30.3" lengthAdjust="spacingAndGlyphs">A</text>
<polyline points="1188.0,1024.6 1223.9,1024.6 1231.6,1060.3" fill="none" stroke="#333" stroke-width="1.8" stroke-linejoin="miter" />
<circle cx="1272.0" cy="1098.4" r="55.5" fill="none" stroke="#444" stroke-width="1.6" />
<rect x="1247.0" y="1056.4" width="36.6" height="81.6" fill="none" stroke="#000" stroke-width="2.4" rx="2"/>
<circle cx="1262.7" cy="1072.0" r="7.0" fill="none" stroke="#000" stroke-width="2.4" />
<line x1="1253.2" y1="1072.0" x2="1272.2" y2="1072.0" stroke="#000" stroke-width="1.6" />
<line x1="1262.7" y1="1062.5" x2="1262.7" y2="1081.5" stroke="#000" stroke-width="1.6" />
<circle cx="1262.7" cy="1097.6" r="7.0" fill="none" stroke="#000" stroke-width="2.4" />
<line x1="1253.2" y1="1097.6" x2="1272.2" y2="1097.6" stroke="#000" stroke-width="1.6" />
<line x1="1262.7" y1="1088.1" x2="1262.7" y2="1107.1" stroke="#000" stroke-width="1.6" />
<circle cx="1262.7" cy="1123.2" r="7.0" fill="none" stroke="#000" stroke-width="2.4" />
<line x1="1253.2" y1="1123.2" x2="1272.2" y2="1123.2" stroke="#000" stroke-width="1.6" />
<line x1="1262.7" y1="1113.7" x2="1262.7" y2="1132.7" stroke="#000" stroke-width="1.6" />
<rect x="1247.0" y="1191.8" width="36.6" height="81.5" fill="none" stroke="#000" stroke-width="2.4" rx="2"/>
<circle cx="1262.7" cy="1207.3" r="7.0" fill="none" stroke="#000" stroke-width="2.4" />
<line x1="1253.2" y1="1207.3" x2="1272.2" y2="1207.3" stroke="#000" stroke-width="1.6" />
<line x1="1262.7" y1="1197.8" x2="1262.7" y2="1216.8" stroke="#000" stroke-width="1.6" />
<circle cx="1262.7" cy="1233.0" r="7.0" fill="none" stroke="#000" stroke-width="2.4" />
<line x1="1253.2" y1="1233.0" x2="1272.2" y2="1233.0" stroke="#000" stroke-width="1.6" />
<line x1="1262.7" y1="1223.5" x2="1262.7" y2="1242.5" stroke="#000" stroke-width="1.6" />
<circle cx="1262.7" cy="1257.8" r="7.0" fill="none" stroke="#000" stroke-width="2.4" />
<line x1="1253.2" y1="1257.8" x2="1272.2" y2="1257.8" stroke="#000" stroke-width="1.6" />
<line x1="1262.7" y1="1248.3" x2="1262.7" y2="1267.3" stroke="#000" stroke-width="1.6" />
<rect x="1281.5" y="1076.0" width="5.5" height="16.0" fill="none" stroke="#000" stroke-width="1.8" rx="0"/>
<rect x="1281.5" y="1114.0" width="5.5" height="16.0" fill="none" stroke="#000" stroke-width="1.8" rx="0"/>
<rect x="1281.5" y="1200.0" width="5.5" height="20.0" fill="none" stroke="#000" stroke-width="1.8" rx="0"/>
<rect x="1281.5" y="1243.0" width="5.5" height="19.0" fill="none" stroke="#000" stroke-width="1.8" rx="0"/>
<line x1="1190.5" y1="1097.6" x2="1247.0" y2="1097.6" stroke="#000" stroke-width="2.0" />
<line x1="1283.6" y1="1097.6" x2="1303.8" y2="1097.6" stroke="#000" stroke-width="2.0" />
<line x1="1190.5" y1="1233.0" x2="1247.0" y2="1233.0" stroke="#000" stroke-width="2.0" />
<line x1="1283.6" y1="1233.0" x2="1303.8" y2="1233.0" stroke="#000" stroke-width="2.0" />
<line x1="1198.2" y1="1097.6" x2="1198.2" y2="1339.3" stroke="#000" stroke-width="2.0" />
<polygon points="1198.2,1097.6 1202.5,1121.6 1193.9,1121.6" fill="#000"/>
<polygon points="1198.2,1233.0 1193.9,1209.0 1202.5,1209.0" fill="#000"/>
<polygon points="1198.2,1292.0 1202.5,1316.0 1193.9,1316.0" fill="#000"/>
<text transform="translate(1193.6,1189.5) rotate(-90)" x="0" y="0" font-size="27" fill="#1c1c1c" textLength="48.9" lengthAdjust="spacingAndGlyphs">133</text>
<text transform="translate(1193.6,1278.8) rotate(-90)" x="0" y="0" font-size="27" fill="#1c1c1c" textLength="33.4" lengthAdjust="spacingAndGlyphs">58</text>
<circle cx="1399.6" cy="1246.1" r="9.3" fill="none" stroke="#000" stroke-width="7.8" />
<line x1="1261.9" y1="1258.0" x2="1261.9" y2="1341.0" stroke="#000" stroke-width="2.0" />
<line x1="1511.2" y1="1267.0" x2="1511.2" y2="1341.0" stroke="#000" stroke-width="2.0" stroke-dasharray="10 6"/>
<line x1="1261.9" y1="1334.0" x2="1511.2" y2="1334.0" stroke="#000" stroke-width="2.0" />
<polygon points="1261.9,1334.0 1285.9,1329.7 1285.9,1338.3" fill="#000"/>
<polygon points="1511.2,1334.0 1487.2,1338.3 1487.2,1329.7" fill="#000"/>
<text x="1361.3" y="1328.4" font-size="27" fill="#1c1c1c" textLength="50.4" lengthAdjust="spacingAndGlyphs">244</text>
<text x="1133.7" y="791.7" font-size="25" fill="#1c1c1c" textLength="547.2" lengthAdjust="spacingAndGlyphs">Заднее вертикальное присоединение</text>
<text x="1302.2" y="819.0" font-size="25" fill="#1c1c1c" textLength="199.0" lengthAdjust="spacingAndGlyphs">остальное см.</text>
<text x="1120.9" y="846.3" font-size="25" fill="#1c1c1c" textLength="571.1" lengthAdjust="spacingAndGlyphs">заднее горизонтальное присоединение</text>
<text x="611.2" y="1429.7" font-size="46" fill="#1c1c1c" textLength="30.0" lengthAdjust="spacingAndGlyphs">A</text>
<line x1="503.0" y1="1506.3" x2="739.0" y2="1506.3" stroke="#000" stroke-width="1.9" />
<polygon points="506.6,1506.3 530.6,1502.0 530.6,1510.6" fill="#000"/>
<polygon points="735.0,1506.3 711.0,1510.6 711.0,1502.0" fill="#000"/>
<text x="604.0" y="1500.0" font-size="27" fill="#1c1c1c" textLength="34.0" lengthAdjust="spacingAndGlyphs">80</text>
<line x1="545.0" y1="1550.8" x2="697.0" y2="1550.8" stroke="#000" stroke-width="1.9" />
<polygon points="549.0,1550.8 573.0,1546.5 573.0,1555.1" fill="#000"/>
<polygon points="693.0,1550.8 669.0,1555.1 669.0,1546.5" fill="#000"/>
<line x1="549.0" y1="1543.6" x2="549.0" y2="1667.0" stroke="#000" stroke-width="1.9" />
<line x1="693.0" y1="1543.6" x2="693.0" y2="1667.0" stroke="#000" stroke-width="1.9" />
<text x="605.0" y="1544.6" font-size="27" fill="#1c1c1c" textLength="33.0" lengthAdjust="spacingAndGlyphs">50</text>
<line x1="450.7" y1="1601.5" x2="735.0" y2="1601.5" stroke="#000" stroke-width="1.9" />
<polyline points="506.9,1499.0 506.9,1701.0 521.3,1701.0 521.3,1760.0" fill="none" stroke="#000" stroke-width="2.2" stroke-linejoin="miter" />
<polyline points="734.8,1499.0 734.8,1701.7 721.1,1701.7 721.1,1760.0" fill="none" stroke="#000" stroke-width="2.2" stroke-linejoin="miter" />
<circle cx="549.0" cy="1645.0" r="18.6" fill="none" stroke="#000" stroke-width="2.2" />
<circle cx="621.5" cy="1645.0" r="18.6" fill="none" stroke="#000" stroke-width="2.2" />
<circle cx="693.0" cy="1645.0" r="18.6" fill="none" stroke="#000" stroke-width="2.2" />
<line x1="526.0" y1="1645.0" x2="573.0" y2="1645.0" stroke="#000" stroke-width="1.7" />
<line x1="598.0" y1="1645.0" x2="645.0" y2="1645.0" stroke="#000" stroke-width="1.7" />
<line x1="670.0" y1="1645.0" x2="717.0" y2="1645.0" stroke="#000" stroke-width="1.7" />
<line x1="621.5" y1="1624.0" x2="621.5" y2="1666.0" stroke="#000" stroke-width="1.7" />
<line x1="450.7" y1="1645.0" x2="530.0" y2="1645.0" stroke="#000" stroke-width="1.9" />
<line x1="621.5" y1="1578.8" x2="621.5" y2="1616.0" stroke="#000" stroke-width="1.9" />
<line x1="621.5" y1="1625.3" x2="621.5" y2="1661.0" stroke="#000" stroke-width="1.9" />
<line x1="621.5" y1="1675.0" x2="621.5" y2="1721.6" stroke="#000" stroke-width="1.9" />
<line x1="621.6" y1="1730.0" x2="621.6" y2="1762.0" stroke="#000" stroke-width="1.9" />
<line x1="458.4" y1="1528.0" x2="458.4" y2="1783.0" stroke="#000" stroke-width="1.9" />
<polygon points="458.4,1601.5 454.1,1577.5 462.7,1577.5" fill="#000"/>
<polygon points="458.4,1695.7 462.7,1719.7 454.1,1719.7" fill="#000"/>
<text transform="translate(453.8,1569.4) rotate(-90)" x="0" y="0" font-size="27" fill="#1c1c1c" textLength="30.0" lengthAdjust="spacingAndGlyphs">15</text>
<line x1="450.7" y1="1696.0" x2="506.9" y2="1696.0" stroke="#000" stroke-width="1.9" />
<line x1="506.9" y1="1696.0" x2="545.4" y2="1696.0" stroke="#000" stroke-width="1.9" />
<text transform="translate(453.8,1766.0) rotate(-90)" x="0" y="0" font-size="27" fill="#1c1c1c" textLength="29.0" lengthAdjust="spacingAndGlyphs">18</text>
<rect x="545.4" y="1696.0" width="36.9" height="23.3" fill="none" stroke="#000" stroke-width="2.2" rx="2"/>
<path d="M540.6,1727.5 Q542.6,1719.3 549.4,1719.3 L578.3,1719.3 Q586,1719.3 588,1727.5 Z" fill="none" stroke="#000" stroke-width="1.6" />
<rect x="549.4" y="1721.0" width="13.4" height="4.0" fill="none" stroke="#000" stroke-width="1.2" rx="2"/>
<rect x="564.8" y="1721.0" width="13.5" height="4.0" fill="none" stroke="#000" stroke-width="1.2" rx="2"/>
<rect x="659.8" y="1696.0" width="36.7" height="23.3" fill="none" stroke="#000" stroke-width="2.2" rx="2"/>
<path d="M654.7,1727.5 Q656.7,1719.3 663.8,1719.3 L692.5,1719.3 Q699.5,1719.3 701.5,1727.5 Z" fill="none" stroke="#000" stroke-width="1.6" />
<rect x="663.8" y="1721.0" width="13.4" height="4.0" fill="none" stroke="#000" stroke-width="1.2" rx="2"/>
<rect x="679.1" y="1721.0" width="13.4" height="4.0" fill="none" stroke="#000" stroke-width="1.2" rx="2"/>
<line x1="521.3" y1="1730.5" x2="721.1" y2="1730.5" stroke="#000" stroke-width="4.0" />
<line x1="521.3" y1="1758.6" x2="721.1" y2="1758.6" stroke="#000" stroke-width="5.0" />
<path d="M482.8,1718.5 A148.6,148.6 0 0 0 761.2,1713.7" fill="none" stroke="#000" stroke-width="1.8"/>
<line x1="482.8" y1="1718.5" x2="521.3" y2="1718.5" stroke="#000" stroke-width="1.9" />
<line x1="504.5" y1="1718.5" x2="504.5" y2="1756.0" stroke="#000" stroke-width="1.9" />
<line x1="504.5" y1="1761.0" x2="521.3" y2="1761.0" stroke="#666" stroke-width="1.5" />
<line x1="721.1" y1="1718.5" x2="737.2" y2="1718.5" stroke="#000" stroke-width="1.9" />
<polyline points="737.2,1718.5 737.2,1713.7 761.2,1713.7" fill="none" stroke="#000" stroke-width="1.9" stroke-linejoin="miter" />
<line x1="738.0" y1="1713.7" x2="738.0" y2="1756.0" stroke="#000" stroke-width="1.9" />
<line x1="721.1" y1="1761.0" x2="738.0" y2="1761.0" stroke="#666" stroke-width="1.5" />
<line x1="649.3" y1="1686.3" x2="766.7" y2="1570.4" stroke="#000" stroke-width="1.7" />
<line x1="766.7" y1="1570.4" x2="997.7" y2="1570.4" stroke="#000" stroke-width="1.9" />
<polygon points="706.2,1631.8 717.5,1614.9 723.1,1620.5" fill="#000"/>
<polygon points="679.8,1658.2 668.5,1675.1 662.9,1669.5" fill="#000"/>
<text x="769.5" y="1564.3" font-size="27" fill="#1c1c1c" textLength="159.3" lengthAdjust="spacingAndGlyphs">18 отв.(3п)</text>
<circle cx="947.0" cy="1555.5" r="9.3" fill="none" stroke="#000" stroke-width="2.2" />
<line x1="936.5" y1="1568.0" x2="958.5" y2="1541.0" stroke="#000" stroke-width="2.0" />
<text x="965.1" y="1564.3" font-size="27" fill="#1c1c1c" textLength="31.7" lengthAdjust="spacingAndGlyphs">13</text>
<text x="769.5" y="1597.8" font-size="27" fill="#1c1c1c" textLength="160.2" lengthAdjust="spacingAndGlyphs">24 отв.(4п)</text>
<rect x="1303.4" y="1394.0" width="222.0" height="25.0" fill="none" stroke="#000" stroke-width="2.6" rx="0"/>
<rect x="1327.6" y="1400.5" width="38.4" height="13.0" fill="none" stroke="#000" stroke-width="2.4" rx="6.5"/>
<line x1="1333.0" y1="1407.0" x2="1360.0" y2="1407.0" stroke="#000" stroke-width="1.6" stroke-dasharray="8 4"/>
<circle cx="1472.0" cy="1407.0" r="7.2" fill="none" stroke="#000" stroke-width="2.4" />
<line x1="1462.8" y1="1407.0" x2="1481.2" y2="1407.0" stroke="#000" stroke-width="1.6" />
<line x1="1472.0" y1="1397.8" x2="1472.0" y2="1416.2" stroke="#000" stroke-width="1.6" />
<circle cx="1511.3" cy="1407.0" r="7.2" fill="none" stroke="#000" stroke-width="2.4" />
<line x1="1502.1" y1="1407.0" x2="1520.5" y2="1407.0" stroke="#000" stroke-width="1.6" />
<line x1="1511.3" y1="1397.8" x2="1511.3" y2="1416.2" stroke="#000" stroke-width="1.6" />
<line x1="1303.4" y1="1419.0" x2="1303.4" y2="1918.8" stroke="#000" stroke-width="2.6" />
<line x1="1526.4" y1="1419.0" x2="1526.4" y2="1918.8" stroke="#000" stroke-width="2.6" />
<line x1="1456.0" y1="1419.0" x2="1456.0" y2="1918.8" stroke="#000" stroke-width="2.6" />
<line x1="1470.0" y1="1419.0" x2="1470.0" y2="1918.8" stroke="#000" stroke-width="2.6" />
<line x1="1456.0" y1="1802.4" x2="1526.8" y2="1802.4" stroke="#000" stroke-width="2.6" />
<line x1="1286.6" y1="1918.8" x2="1526.4" y2="1918.8" stroke="#000" stroke-width="2.6" />
<rect x="1304.2" y="1918.8" width="221.6" height="24.8" fill="none" stroke="#000" stroke-width="2.6" rx="0"/>
<rect x="1328.0" y="1924.7" width="37.3" height="13.0" fill="none" stroke="#000" stroke-width="2.4" rx="6.5"/>
<circle cx="1472.0" cy="1931.2" r="7.2" fill="none" stroke="#000" stroke-width="2.4" />
<line x1="1462.8" y1="1931.2" x2="1481.2" y2="1931.2" stroke="#000" stroke-width="1.6" />
<line x1="1472.0" y1="1922.0" x2="1472.0" y2="1940.4" stroke="#000" stroke-width="1.6" />
<circle cx="1511.3" cy="1931.2" r="7.2" fill="none" stroke="#000" stroke-width="2.4" />
<line x1="1502.1" y1="1931.2" x2="1520.5" y2="1931.2" stroke="#000" stroke-width="1.6" />
<line x1="1511.3" y1="1922.0" x2="1511.3" y2="1940.4" stroke="#000" stroke-width="1.6" />
<rect x="1387.5" y="1919.3" width="23.0" height="6.2" fill="#000"/>
<rect x="1387.5" y="1936.5" width="23.0" height="7.0" fill="#000"/>
<ellipse cx="1392" cy="1922.5" rx="2.4" ry="1.3" fill="#ccc"/>
<ellipse cx="1400" cy="1922.5" rx="2.4" ry="1.3" fill="#ccc"/>
<ellipse cx="1406.5" cy="1922.5" rx="2.4" ry="1.3" fill="#ccc"/>
<ellipse cx="1392" cy="1940" rx="2.4" ry="1.3" fill="#ccc"/>
<ellipse cx="1400" cy="1940" rx="2.4" ry="1.3" fill="#ccc"/>
<ellipse cx="1406.5" cy="1940" rx="2.4" ry="1.3" fill="#ccc"/>
<ellipse cx="1399.4" cy="1930.8" rx="13.3" ry="6" fill="#000"/>
<rect x="1393.0" y="1943.5" width="12.7" height="12.8" fill="none" stroke="#000" stroke-width="2.6" rx="2.5"/>
<polyline points="1526.4,1450.4 1583.3,1450.4 1583.3,1556.0 1591.2,1563.0 1591.2,1657.0 1583.3,1664.0 1583.3,1773.0 1526.4,1773.0" fill="none" stroke="#000" stroke-width="2.6" stroke-linejoin="miter" />
<line x1="1579.2" y1="1452.0" x2="1579.2" y2="1771.0" stroke="#777" stroke-width="1.5" />
<rect x="1285.0" y="1419.5" width="4.0" height="32.3" fill="#000"/>
<line x1="1286.0" y1="1419.6" x2="1303.4" y2="1419.6" stroke="#000" stroke-width="2.2" />
<line x1="1286.0" y1="1451.8" x2="1303.4" y2="1451.8" stroke="#555" stroke-width="1.8" />
<line x1="1289.0" y1="1455.2" x2="1303.4" y2="1455.2" stroke="#000" stroke-width="2.0" />
<rect x="1293.3" y="1457.8" width="10.1" height="71.0" fill="none" stroke="#000" stroke-width="2.0" rx="2"/>
<rect x="1289.0" y="1462.8" width="4.8" height="21.5" fill="#000"/>
<rect x="1285.5" y="1481.8" width="8.3" height="2.5" fill="#000"/>
<rect x="1289.0" y="1503.3" width="4.8" height="21.5" fill="#000"/>
<rect x="1285.5" y="1503.3" width="8.3" height="2.5" fill="#000"/>
<rect x="1281.1" y="1465.8" width="6.8" height="13.4" fill="none" stroke="#000" stroke-width="2.0" rx="1.5"/>
<rect x="1281.1" y="1506.1" width="6.8" height="13.5" fill="none" stroke="#000" stroke-width="2.0" rx="1.5"/>
<rect x="1246.2" y="1483.3" width="36.3" height="20.1" fill="none" stroke="#000" stroke-width="2.6" rx="2"/>
<line x1="1283.2" y1="1479.8" x2="1283.2" y2="1509.8" stroke="#666" stroke-width="1.5" />
<line x1="1206.0" y1="1492.8" x2="1246.2" y2="1492.8" stroke="#000" stroke-width="2.0" />
<line x1="1254.0" y1="1492.8" x2="1276.0" y2="1492.8" stroke="#000" stroke-width="1.8" stroke-dasharray="10 6"/>
<line x1="1283.5" y1="1492.8" x2="1293.3" y2="1492.8" stroke="#000" stroke-width="2.0" />
<line x1="1293.3" y1="1492.8" x2="1303.4" y2="1492.8" stroke="#000" stroke-width="1.6" />
<line x1="1289.0" y1="1529.8" x2="1303.4" y2="1529.8" stroke="#000" stroke-width="2.0" />
<line x1="1289.0" y1="1533.3" x2="1303.4" y2="1533.3" stroke="#444" stroke-width="1.6" />
<rect x="1289.0" y="1538.4" width="14.4" height="6.1" fill="none" stroke="#000" stroke-width="1.8" rx="0"/>
<rect x="1289.0" y="1549.8" width="14.4" height="17.0" fill="none" stroke="#000" stroke-width="2.0" rx="0"/>
<rect x="1287.5" y="1541.8" width="3.5" height="25.0" fill="#000"/>
<line x1="1289.0" y1="1570.8" x2="1303.4" y2="1570.8" stroke="#444" stroke-width="1.6" />
<line x1="1289.0" y1="1573.4" x2="1303.4" y2="1573.4" stroke="#000" stroke-width="2.0" />
<line x1="1289.0" y1="1528.8" x2="1289.0" y2="1574.8" stroke="#000" stroke-width="2.2" />
<rect x="1293.3" y="1574.9" width="10.1" height="71.0" fill="none" stroke="#000" stroke-width="2.0" rx="2"/>
<rect x="1289.0" y="1579.9" width="4.8" height="21.5" fill="#000"/>
<rect x="1285.5" y="1598.9" width="8.3" height="2.5" fill="#000"/>
<rect x="1289.0" y="1620.4" width="4.8" height="21.5" fill="#000"/>
<rect x="1285.5" y="1620.4" width="8.3" height="2.5" fill="#000"/>
<rect x="1281.1" y="1582.9" width="6.8" height="13.4" fill="none" stroke="#000" stroke-width="2.0" rx="1.5"/>
<rect x="1281.1" y="1623.2" width="6.8" height="13.5" fill="none" stroke="#000" stroke-width="2.0" rx="1.5"/>
<rect x="1246.2" y="1600.4" width="36.3" height="20.1" fill="none" stroke="#000" stroke-width="2.6" rx="2"/>
<line x1="1283.2" y1="1596.9" x2="1283.2" y2="1626.9" stroke="#666" stroke-width="1.5" />
<line x1="1206.0" y1="1609.9" x2="1246.2" y2="1609.9" stroke="#000" stroke-width="2.0" />
<line x1="1254.0" y1="1609.9" x2="1276.0" y2="1609.9" stroke="#000" stroke-width="1.8" stroke-dasharray="10 6"/>
<line x1="1283.5" y1="1609.9" x2="1293.3" y2="1609.9" stroke="#000" stroke-width="2.0" />
<line x1="1293.3" y1="1609.9" x2="1303.4" y2="1609.9" stroke="#000" stroke-width="1.6" />
<line x1="1289.0" y1="1646.9" x2="1303.4" y2="1646.9" stroke="#000" stroke-width="2.0" />
<line x1="1289.0" y1="1650.4" x2="1303.4" y2="1650.4" stroke="#444" stroke-width="1.6" />
<rect x="1289.0" y="1655.5" width="14.4" height="6.1" fill="none" stroke="#000" stroke-width="1.8" rx="0"/>
<rect x="1289.0" y="1666.9" width="14.4" height="17.0" fill="none" stroke="#000" stroke-width="2.0" rx="0"/>
<rect x="1287.5" y="1658.9" width="3.5" height="25.0" fill="#000"/>
<line x1="1289.0" y1="1687.9" x2="1303.4" y2="1687.9" stroke="#444" stroke-width="1.6" />
<line x1="1289.0" y1="1690.5" x2="1303.4" y2="1690.5" stroke="#000" stroke-width="2.0" />
<line x1="1289.0" y1="1645.9" x2="1289.0" y2="1691.9" stroke="#000" stroke-width="2.2" />
<rect x="1293.3" y="1691.5" width="10.1" height="71.0" fill="none" stroke="#000" stroke-width="2.0" rx="2"/>
<rect x="1289.0" y="1696.5" width="4.8" height="21.5" fill="#000"/>
<rect x="1285.5" y="1715.5" width="8.3" height="2.5" fill="#000"/>
<rect x="1289.0" y="1737.0" width="4.8" height="21.5" fill="#000"/>
<rect x="1285.5" y="1737.0" width="8.3" height="2.5" fill="#000"/>
<rect x="1281.1" y="1699.5" width="6.8" height="13.4" fill="none" stroke="#000" stroke-width="2.0" rx="1.5"/>
<rect x="1281.1" y="1739.8" width="6.8" height="13.5" fill="none" stroke="#000" stroke-width="2.0" rx="1.5"/>
<rect x="1246.2" y="1717.0" width="36.3" height="20.1" fill="none" stroke="#000" stroke-width="2.6" rx="2"/>
<line x1="1283.2" y1="1713.5" x2="1283.2" y2="1743.5" stroke="#666" stroke-width="1.5" />
<line x1="1206.0" y1="1726.5" x2="1246.2" y2="1726.5" stroke="#000" stroke-width="2.0" />
<line x1="1254.0" y1="1726.5" x2="1276.0" y2="1726.5" stroke="#000" stroke-width="1.8" stroke-dasharray="10 6"/>
<line x1="1283.5" y1="1726.5" x2="1293.3" y2="1726.5" stroke="#000" stroke-width="2.0" />
<line x1="1293.3" y1="1726.5" x2="1303.4" y2="1726.5" stroke="#000" stroke-width="1.6" />
<line x1="1289.0" y1="1763.5" x2="1303.4" y2="1763.5" stroke="#000" stroke-width="2.0" />
<line x1="1289.0" y1="1767.0" x2="1303.4" y2="1767.0" stroke="#444" stroke-width="1.6" />
<rect x="1289.0" y="1772.1" width="14.4" height="6.1" fill="none" stroke="#000" stroke-width="1.8" rx="0"/>
<rect x="1289.0" y="1783.5" width="14.4" height="17.0" fill="none" stroke="#000" stroke-width="2.0" rx="0"/>
<rect x="1287.5" y="1775.5" width="3.5" height="25.0" fill="#000"/>
<line x1="1289.0" y1="1804.5" x2="1303.4" y2="1804.5" stroke="#444" stroke-width="1.6" />
<line x1="1289.0" y1="1807.1" x2="1303.4" y2="1807.1" stroke="#000" stroke-width="2.0" />
<line x1="1289.0" y1="1762.5" x2="1289.0" y2="1808.5" stroke="#000" stroke-width="2.2" />
<rect x="1293.3" y="1808.9" width="10.1" height="71.0" fill="none" stroke="#000" stroke-width="2.0" rx="2"/>
<rect x="1289.0" y="1813.9" width="4.8" height="21.5" fill="#000"/>
<rect x="1285.5" y="1832.9" width="8.3" height="2.5" fill="#000"/>
<rect x="1289.0" y="1854.4" width="4.8" height="21.5" fill="#000"/>
<rect x="1285.5" y="1854.4" width="8.3" height="2.5" fill="#000"/>
<rect x="1281.1" y="1816.9" width="6.8" height="13.4" fill="none" stroke="#000" stroke-width="2.0" rx="1.5"/>
<rect x="1281.1" y="1857.2" width="6.8" height="13.5" fill="none" stroke="#000" stroke-width="2.0" rx="1.5"/>
<rect x="1246.2" y="1834.4" width="36.3" height="20.1" fill="none" stroke="#000" stroke-width="2.6" rx="2"/>
<line x1="1283.2" y1="1830.9" x2="1283.2" y2="1860.9" stroke="#666" stroke-width="1.5" />
<line x1="1206.3" y1="1843.9" x2="1246.2" y2="1843.9" stroke="#000" stroke-width="2.0" />
<line x1="1254.0" y1="1843.9" x2="1276.0" y2="1843.9" stroke="#000" stroke-width="1.8" stroke-dasharray="10 6"/>
<line x1="1283.5" y1="1843.9" x2="1293.3" y2="1843.9" stroke="#000" stroke-width="2.0" />
<line x1="1293.3" y1="1843.9" x2="1313.4" y2="1843.9" stroke="#000" stroke-width="1.6" />
<line x1="1289.0" y1="1879.9" x2="1303.4" y2="1879.9" stroke="#000" stroke-width="2.0" />
<line x1="1289.0" y1="1884.0" x2="1303.4" y2="1884.0" stroke="#444" stroke-width="1.6" />
<line x1="1289.0" y1="1879.0" x2="1289.0" y2="1888.0" stroke="#000" stroke-width="2.2" />
<polyline points="1289.0,1887.0 1286.5,1890.0 1286.5,1905.0 1289.0,1906.0 1286.5,1908.0 1286.5,1919.4" fill="none" stroke="#000" stroke-width="2.6" stroke-linejoin="miter" />
<line x1="1259.8" y1="1401.7" x2="1259.8" y2="1553.9" stroke="#000" stroke-width="2.0" />
<polygon points="1259.8,1483.3 1255.5,1459.3 1264.1,1459.3" fill="#000"/>
<polygon points="1259.8,1504.2 1264.1,1528.2 1255.5,1528.2" fill="#000"/>
<text transform="translate(1254.8,1446.0) rotate(-90)" x="0" y="0" font-size="27" fill="#1c1c1c" textLength="31.8" lengthAdjust="spacingAndGlyphs">20</text>
<line x1="1213.4" y1="1492.8" x2="1213.4" y2="1843.9" stroke="#000" stroke-width="2.0" />
<polygon points="1213.4,1492.8 1217.7,1516.8 1209.1,1516.8" fill="#000"/>
<polygon points="1213.4,1609.9 1209.1,1585.9 1217.7,1585.9" fill="#000"/>
<polygon points="1213.4,1609.9 1217.7,1633.9 1209.1,1633.9" fill="#000"/>
<polygon points="1213.4,1726.5 1209.1,1702.5 1217.7,1702.5" fill="#000"/>
<polygon points="1213.4,1726.5 1217.7,1750.5 1209.1,1750.5" fill="#000"/>
<polygon points="1213.4,1843.9 1209.1,1819.9 1217.7,1819.9" fill="#000"/>
<text transform="translate(1208.2,1575.6) rotate(-90)" x="0" y="0" font-size="27" fill="#1c1c1c" textLength="49.6" lengthAdjust="spacingAndGlyphs">115</text>
<text transform="translate(1208.2,1692.6) rotate(-90)" x="0" y="0" font-size="27" fill="#1c1c1c" textLength="49.6" lengthAdjust="spacingAndGlyphs">115</text>
<text transform="translate(1208.2,1808.0) rotate(-90)" x="0" y="0" font-size="27" fill="#1c1c1c" textLength="48.6" lengthAdjust="spacingAndGlyphs">115</text>
<text x="1194.5" y="1982.0" font-size="25" fill="#1c1c1c" textLength="294.0" lengthAdjust="spacingAndGlyphs">Нейтральный полюс</text>
<line x1="1160.7" y1="1987.7" x2="1484.4" y2="1987.7" stroke="#000" stroke-width="2.0" />
<line x1="1160.7" y1="1987.7" x2="1263.2" y2="1854.7" stroke="#000" stroke-width="1.8" />
<polygon points="1263.2,1854.7 1252.0,1876.3 1245.1,1871.1" fill="#000"/>
</svg></body></html>
